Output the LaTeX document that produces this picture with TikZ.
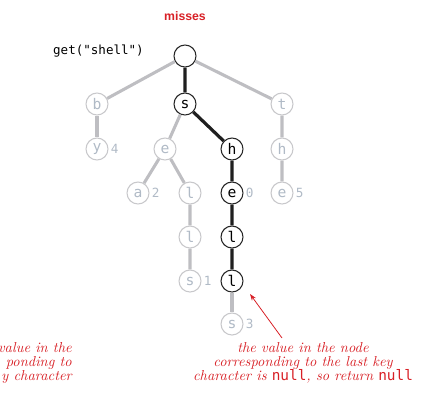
\documentclass[tikz,border=0pt]{standalone}
\usepackage{fontspec}
\setmonofont{DejaVu Sans Mono}
\setsansfont{Liberation Sans}
\usetikzlibrary{arrows.meta}
\definecolor{missred}{RGB}{216,32,38}
\definecolor{lgray}{RGB}{190,190,194}
\definecolor{tgray}{RGB}{176,186,198}
\newcommand{\nullword}{\upshape\ttfamily null}
\tikzset{
  gn/.style={circle,draw=lgray!85,fill=white,line width=0.8pt,minimum size=16.5pt,inner sep=0pt,text=tgray,font=\ttfamily\fontsize{11}{11}\selectfont},
  bn/.style={gn,draw=black!85,text=black},
  ge/.style={lgray,line width=2.3pt},
  be/.style={black!88,line width=2.4pt},
  num/.style={text=tgray,font=\ttfamily\fontsize{9.5}{9.5}\selectfont,anchor=west,inner sep=1.5pt},
  note/.style={text=missred,font=\itshape\fontsize{10.8}{10.6}\selectfont,align=center,inner sep=0pt}
}
\begin{document}
\begin{tikzpicture}[x=0.75pt,y=-0.75pt]
\useasboundingbox (0,0) rectangle (431,400);

\node (title) at (185,16) {\sffamily\bfseries\fontsize{9.2}{9.2}\selectfont\color{missred}misses};
\node (query) [anchor=east,inner sep=0pt] at (144,51) {\ttfamily\fontsize{9.4}{9.4}\selectfont get("shell")};

\node (v1) [bn] at (185,56) {};
\node (v2) [gn] at (97,104) {b};
\node (v3) [bn] at (185,104) {s};
\node (v4) [gn] at (282,104) {t};
\node (v5) [gn] at (97,149) {y};
\node (v6) [gn] at (165,149) {e};
\node (v7) [bn] at (232,149) {h};
\node (v8) [gn] at (282,149) {h};
\node (v9) [gn] at (138,193) {a};
\node (v10) [gn] at (190,193) {l};
\node (v11) [bn] at (232,193) {e};
\node (v12) [gn] at (282,193) {e};
\node (v13) [gn] at (190,237) {l};
\node (v14) [bn] at (232,237) {l};
\node (v15) [gn] at (190,281) {s};
\node (v16) [bn] at (232,281) {l};
\node (v17) [gn] at (232,324) {s};

\node (n4) [num] at (v5.east) {4};
\node (n2) [num] at (v9.east) {2};
\node (n0) [num] at (v11.east) {0};
\node (n5) [num] at (v12.east) {5};
\node (n1) [num] at (v15.east) {1};
\node (n3) [num] at (v17.east) {3};

\draw[ge] (v2) -- (v1) -- (v4) -- (v8) -- (v12);
\draw[ge] (v2) -- (v5);
\draw[ge] (v9) -- (v6) -- (v10) -- (v13) -- (v15);
\draw[ge] (v3) -- (v6);
\draw[ge] (v16) -- (v17);
\draw[be] (v1) -- (v3) -- (v7) -- (v11) -- (v14) -- (v16);

\node (hit) [note,anchor=east,align=right] at (72,363) {value in the\\ponding to\\y character};
\node (miss) [note] at (303,363) {the value in the node\\corresponding to the last key\\character is {\nullword}, so return {\nullword}};

\coordinate (a0) at (282,338);
\coordinate (a1) at (250,294);
\draw[missred,line width=0.6pt,-{Stealth[length=5pt,width=3.5pt]}] (a0) -- (a1);
\end{tikzpicture}
\end{document}
